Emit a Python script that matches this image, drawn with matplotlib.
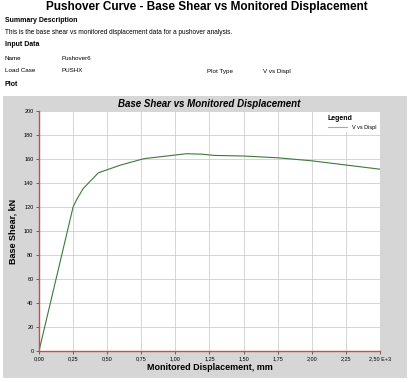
import matplotlib
matplotlib.use('Agg')
import matplotlib.pyplot as plt
from matplotlib.ticker import FuncFormatter
import numpy as np

plt.rcParams.update({'font.family': ['Liberation Sans', 'DejaVu Sans']})

# pushover curve, displacement in E+3 mm, base shear in kN
disp = [0.0, 0.25, 0.28, 0.325, 0.435, 0.60, 0.77, 0.90, 1.08, 1.20,
        1.28, 1.50, 1.75, 2.00, 2.25, 2.50]
shear = [0.0, 120.0, 127.0, 135.5, 148.5, 155.0, 160.3, 162.0, 164.4, 164.0,
         163.0, 162.5, 161.0, 158.5, 155.0, 151.5]
xticks = [0.0, 0.25, 0.5, 0.75, 1.0, 1.25, 1.5, 1.75, 2.0, 2.25, 2.5]
yticks = list(range(0, 201, 20))

W, H = 414, 382
fig = plt.figure(figsize=(W / 100, H / 100), dpi=100)
fig.patch.set_facecolor('white')

def fx(px): return px / W
def fy(py): return 1 - py / H

# header text
fig.text(0.5, fy(7), 'Pushover Curve - Base Shear vs Monitored Displacement',
         ha='center', va='center', fontsize=8.5, fontweight='bold')
fig.text(fx(5), fy(20), 'Summary Description', fontsize=5, fontweight='bold', va='center')
fig.text(fx(5), fy(33), 'This is the base shear vs monitored displacement data for a pushover analysis.',
         fontsize=4.7, va='center')
fig.text(fx(5), fy(45), 'Input Data', fontsize=5, fontweight='bold', va='center')
fig.text(fx(5), fy(58), 'Name', fontsize=4.5, va='center')
fig.text(fx(62), fy(58), 'Pushover6', fontsize=4.5, va='center')
fig.text(fx(5), fy(71), 'Load Case', fontsize=4.5, va='center')
fig.text(fx(62), fy(71), 'PUSHX', fontsize=4.5, va='center')
fig.text(fx(207), fy(71), 'Plot Type', fontsize=4.5, va='center')
fig.text(fx(263), fy(71), 'V vs Displ', fontsize=4.5, va='center')
fig.text(fx(5), fy(84), 'Plot', fontsize=5, fontweight='bold', va='center')

# gray chart panel
bg = fig.add_axes([fx(3), fy(378), fx(404), fy(96) - fy(378)], zorder=0)
bg.set_facecolor('#d6d6d6')
bg.set_xticks([])
bg.set_yticks([])
for s in bg.spines.values():
    s.set_visible(False)

ax = fig.add_axes([fx(39), fy(351), fx(341), fy(111) - fy(351)], zorder=1)
ax.set_facecolor('white')
ax.plot(disp, shear, color='#3b7a3b', lw=0.8, label='V vs Displ')
ax.set_xlim(0, 2.5)
ax.set_ylim(0, 200)
ax.set_xticks(xticks)
ax.set_yticks(yticks)

def xfmt(v, pos):
    s = f'{v:.2f}'.replace('.', ',')
    return s + ' E+3' if abs(v - 2.5) < 1e-9 else s
ax.xaxis.set_major_formatter(FuncFormatter(xfmt))
ax.tick_params(labelsize=4, length=2, width=0.5, color='#333333', pad=2)
ax.grid(True, color='#cfcfcf', lw=0.6)
ax.set_axisbelow(True)
for s in ['top', 'right']:
    ax.spines[s].set_visible(False)
for s in ['left', 'bottom']:
    ax.spines[s].set_color('#d04a4a')
    ax.spines[s].set_linewidth(1.0)

fig.text(0.5 * (fx(39) + fx(380)), fy(104), 'Base Shear vs Monitored Displacement',
         ha='center', va='center', fontsize=7, fontweight='bold', style='italic', zorder=3)
fig.text(0.5 * (fx(39) + fx(380)), fy(367), 'Monitored Displacement, mm',
         ha='center', va='center', fontsize=6.5, fontweight='bold', zorder=3)
fig.text(fx(13), 0.5 * (fy(111) + fy(351)), 'Base Shear, kN', rotation=90,
         ha='center', va='center', fontsize=6.5, fontweight='bold', zorder=3)

leg = ax.legend(loc='upper right', title='Legend', fontsize=4,
                title_fontproperties={'weight': 'bold', 'size': 5},
                frameon=True, facecolor='white', edgecolor='none', fancybox=False,
                handlelength=3.5, borderaxespad=0.3, alignment='left')
leg.get_frame().set_alpha(1)
leg.get_lines()[0].set_color('#8fb88f')

fig.savefig('out.png', dpi=100)
